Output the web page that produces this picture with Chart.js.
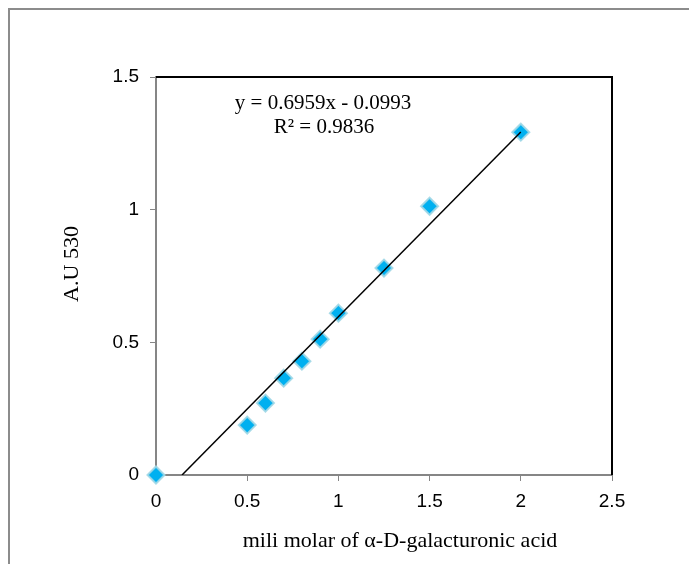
<!DOCTYPE html>
<html>
<head>
<meta charset="utf-8">
<script src="https://cdn.jsdelivr.net/npm/chart.js"></script>
<style>
  html, body { margin: 0; padding: 0; background: #fff; }
</style>
</head>
<body>
<canvas id="galacturonic-chart" width="689" height="564"></canvas>
<script>
// standard curve: absorbance at 530 nm vs galacturonic acid concentration
let concentration = [0, 0.5, 0.6, 0.7, 0.8, 0.9, 1, 1.25, 1.5, 2];
let absorbance = [0, 0.188, 0.271, 0.365, 0.429, 0.512, 0.61, 0.78, 1.013, 1.292];
let xTicks = [0, 0.5, 1, 1.5, 2, 2.5];
let yTicks = [0, 0.5, 1, 1.5];
let slope = 0.6959;
let intercept = -0.0993;
let rSquared = 0.9836;

let xTitle = "mili molar of \u03b1-D-galacturonic acid";
let yTitle = "A.U 530";

let tickFont = { family: "'Liberation Sans', Arial, sans-serif", size: 19 };
let titleFont = "22px 'Liberation Serif', 'Times New Roman', serif";
let eqFont = "21px 'Liberation Serif', 'Times New Roman', serif";
let axisGray = "#868686";

// linear fit, drawn from where it crosses zero up to the last standard
let lastX = concentration[concentration.length - 1];
let fitLine = [
    { x: -intercept / slope, y: 0 },
    { x: lastX, y: slope * lastX + intercept }
];

let points = concentration.map(function (c, i) {
    return { x: c, y: absorbance[i] };
});

const chartFrame = {
    id: "chartFrame",
    beforeDraw(chart) {
        const ctx = chart.ctx;
        ctx.save();
        ctx.fillStyle = "#fff";
        ctx.fillRect(0, 0, chart.width, chart.height);
        ctx.strokeStyle = "#8c8c8c";
        ctx.lineWidth = 2;
        ctx.strokeRect(9, 9, chart.width + 20, chart.height + 20);
        ctx.restore();
    },
    afterDraw(chart) {
        const ctx = chart.ctx;
        const a = chart.chartArea;
        ctx.save();
        // top and right edges of the plot box
        ctx.strokeStyle = "#000";
        ctx.lineWidth = 2;
        ctx.beginPath();
        ctx.moveTo(a.left, a.top);
        ctx.lineTo(a.right, a.top);
        ctx.lineTo(a.right, a.bottom);
        ctx.stroke();

        ctx.fillStyle = "#000";
        ctx.textAlign = "center";
        ctx.textBaseline = "middle";
        ctx.font = eqFont;
        ctx.fillText("y = " + slope + "x - " + Math.abs(intercept).toFixed(4), a.left + 167, a.top + 26);
        ctx.fillText("R\u00b2 = " + rSquared, a.left + 168, a.top + 50);

        ctx.font = titleFont;
        ctx.fillText(xTitle, 400, 541);
        ctx.translate(72, 264);
        ctx.rotate(-Math.PI / 2);
        ctx.fillText(yTitle, 0, 0);
        ctx.restore();
    }
};

function plainLabel(value) {
    return String(value);
}

let chart = new Chart("galacturonic-chart", {
    type: "scatter",
    data: {
        datasets: [{
            label: "Linear fit",
            type: "line",
            data: fitLine,
            borderColor: "#000",
            borderWidth: 1.5,
            pointRadius: 0,
            fill: false,
            order: 0
        }, {
            label: "Standards",
            data: points,
            pointStyle: "rectRot",
            pointRadius: 8.5,
            pointBackgroundColor: "#00b0f0",
            pointBorderColor: "rgba(160,215,230,0.9)",
            pointBorderWidth: 2,
            clip: false,
            order: 1
        }]
    },
    options: {
        responsive: false,
        animation: false,
        layout: {
            padding: { left: 0, top: 77, right: 77, bottom: 0 }
        },
        plugins: {
            legend: { display: false },
            tooltip: { enabled: false }
        },
        scales: {
            x: {
                type: "linear",
                min: 0,
                max: 2.5,
                afterBuildTicks: function (s) {
                    s.ticks = xTicks.map(function (v) { return { value: v }; });
                },
                afterFit: function (s) { s.height = 89; },
                grid: { display: true, drawOnChartArea: false, drawTicks: true, tickLength: 6, color: axisGray },
                border: { display: true, color: axisGray, width: 2 },
                ticks: { color: "#000", font: tickFont, padding: 9, maxRotation: 0, callback: plainLabel }
            },
            y: {
                type: "linear",
                min: 0,
                max: 1.5,
                afterBuildTicks: function (s) {
                    s.ticks = yTicks.map(function (v) { return { value: v }; });
                },
                afterFit: function (s) { s.width = 156; },
                grid: { display: true, drawOnChartArea: false, drawTicks: true, tickLength: 6, color: axisGray },
                border: { display: true, color: axisGray, width: 2 },
                ticks: { color: "#000", font: tickFont, padding: 11, callback: plainLabel }
            }
        }
    },
    plugins: [chartFrame]
});
</script>
</body>
</html>
